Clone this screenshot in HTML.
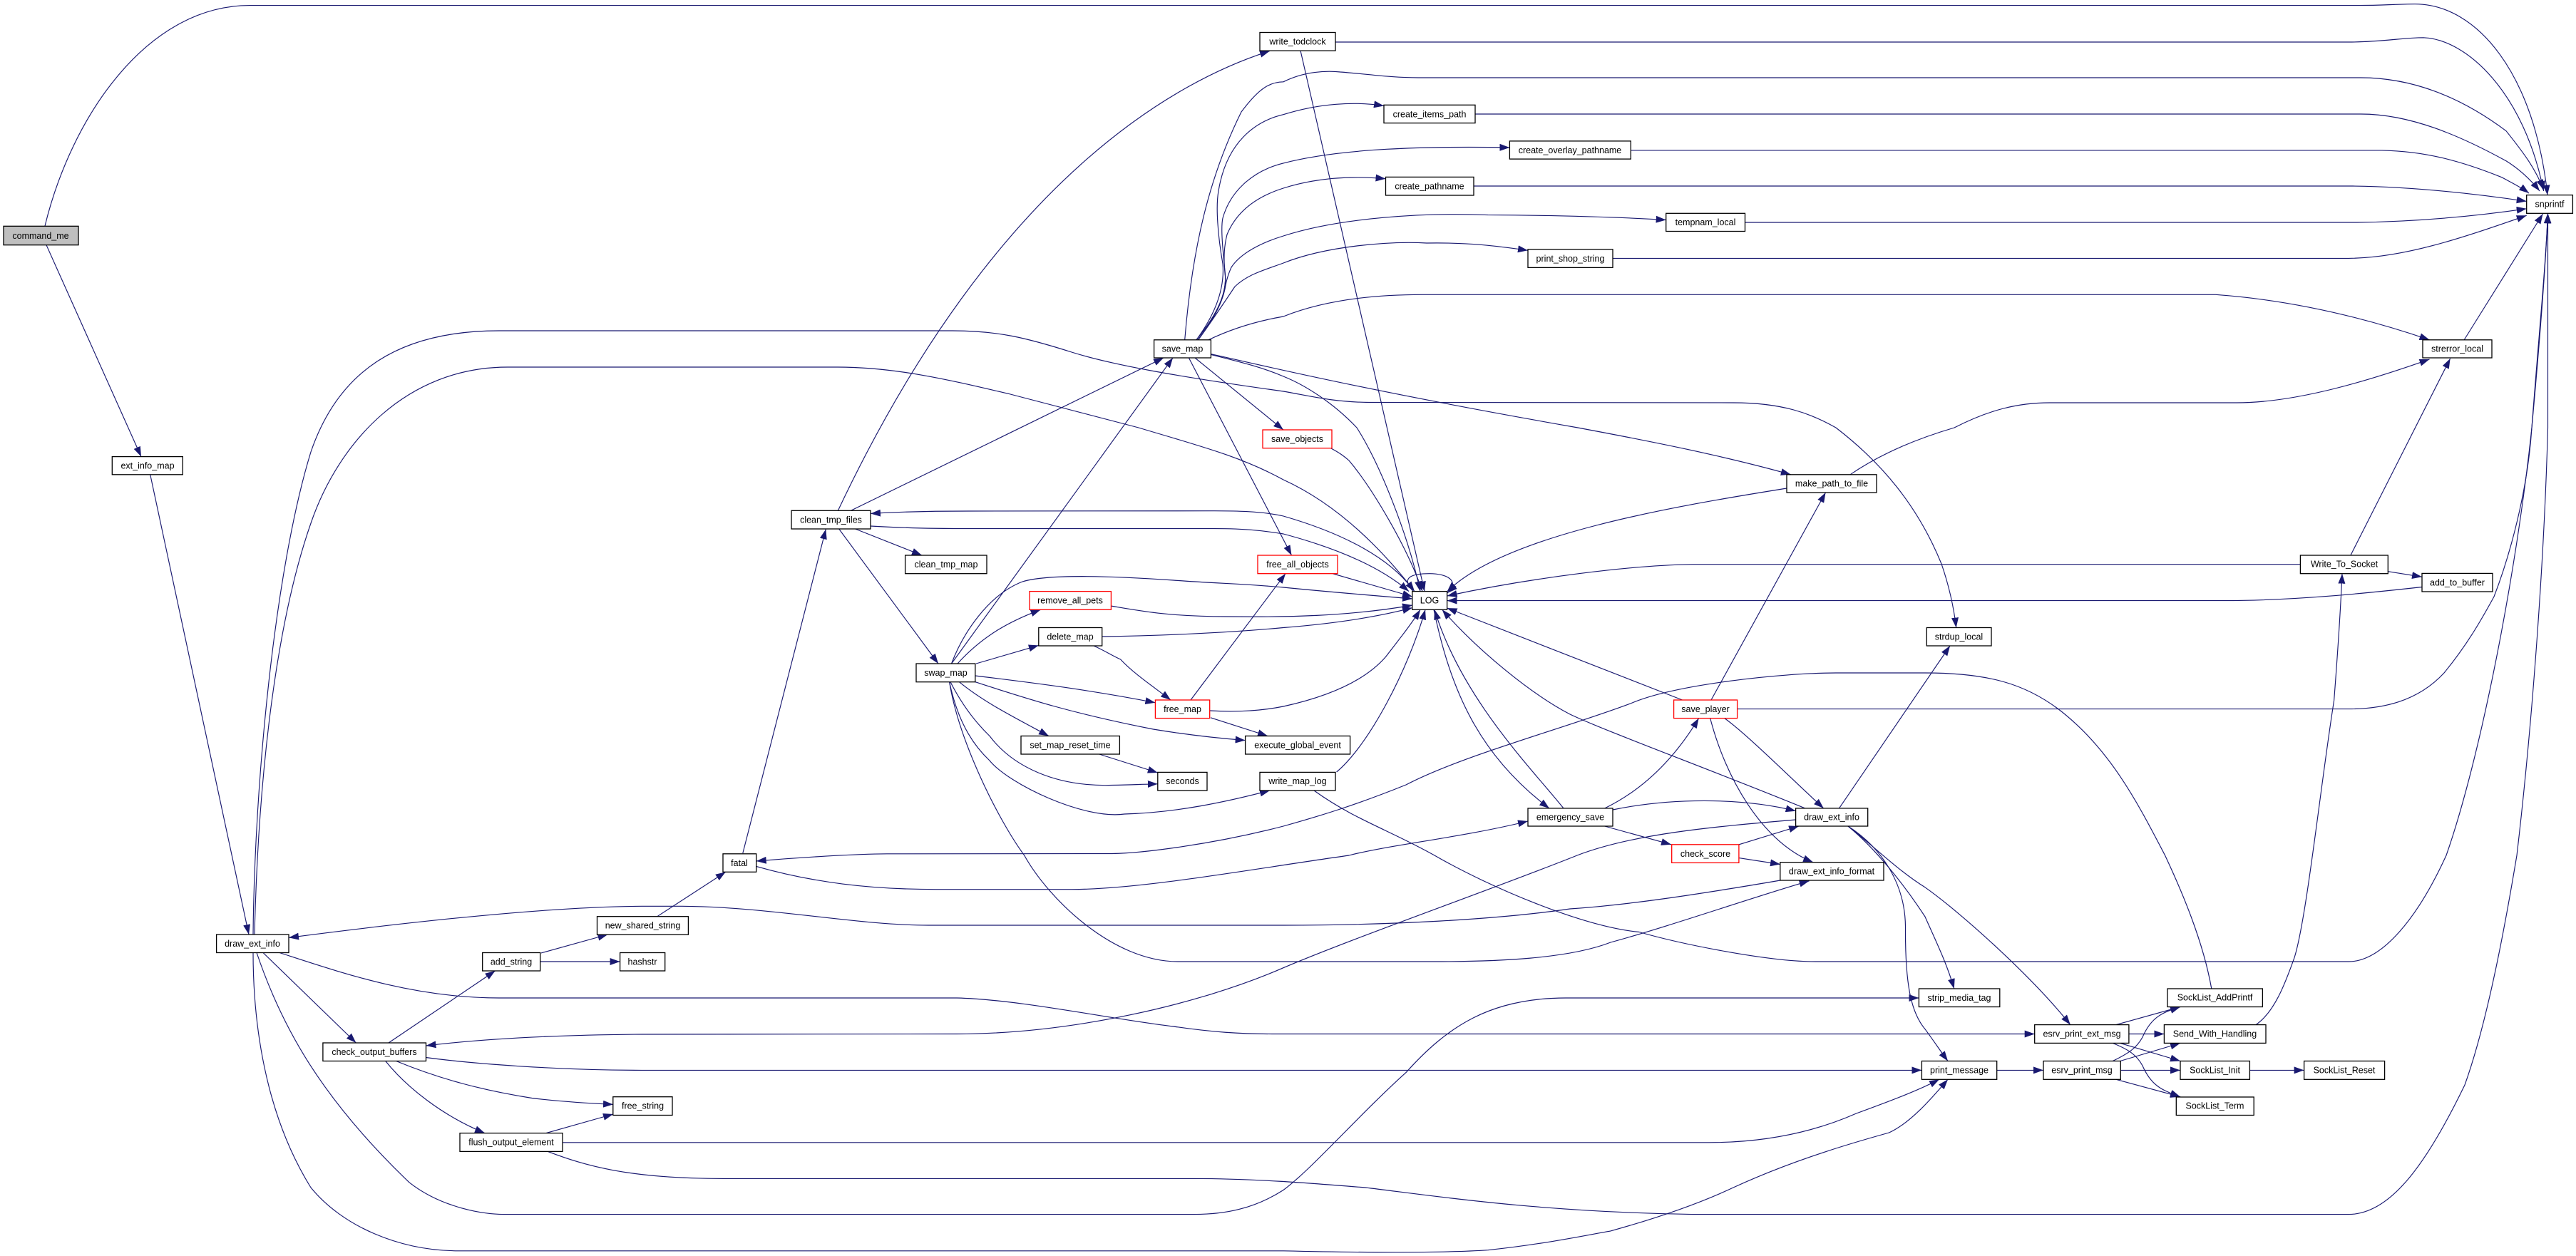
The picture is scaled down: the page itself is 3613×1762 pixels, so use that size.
<!DOCTYPE html>
<html>
<head>
<meta charset="utf-8">
<title>command_me call graph</title>
<style>
html,body{margin:0;padding:0;background:#fff}
svg{display:block}
.n{fill:#fff;stroke:#000;stroke-width:1.3}
.r{fill:#fff;stroke:#ff0000;stroke-width:1.3}
.g{fill:#bfbfbf;stroke:#000;stroke-width:1.3}
text{font-family:"Liberation Sans",sans-serif;font-size:12.5px;fill:#000;text-anchor:middle}
.e path{fill:none;stroke:#191970;stroke-width:1.15;marker-end:url(#a)}
</style>
</head>
<body>
<svg xmlns="http://www.w3.org/2000/svg" width="3613" height="1762" viewBox="0 0 3613 1762">
<defs>
<marker id="a" markerUnits="userSpaceOnUse" markerWidth="14" markerHeight="10" refX="14" refY="5" orient="auto">
<polygon points="0,0 14,5 0,10" fill="#191970"/>
</marker>
</defs>
<rect width="3613" height="1762" fill="#fff"/>
<g class="e">
<path d="M63,317 C100,165 205,8 350,7.6 L3305,7.6 C3345,7.6 3360,5.7 3387,5.7 C3475,5.7 3555,105 3573,273.6"/>
<path d="M65,343.7 L198,640.6"/>
<path d="M210.7,665.8 L349,1311"/>
<path d="M355,1311 C357,1100 385,800 436,634 C475,520 560,464 700,464 L1336,464 C1400,464 1440,474 1503,494 C1560,512 1650,528 1800,549 C1840,556 1870,564 1920,564.5 L2431,565 C2500,565 2540,580 2575,600 C2640,650 2690,710 2723,791 C2733,820 2740,850 2743.7,880.5"/>
<path d="M357,1311 C362,1100 385,880 436,734 C475,620 570,515 712,515 L1175,515 C1260,515 1340,535 1417,553 C1490,572 1560,590 1597,600 C1680,625 1740,640 1800,673 C1870,705 1930,760 1984,829.6"/>
<path d="M1867,629 C1880,636 1885,640 1892,646 C1925,685 1975,770 1995,829.6"/>
<path d="M1824,71 L1998,829.6"/>
<path d="M1698.4,497.5 C1740,508 1770,515 1800,528 C1830,540 1870,565 1903,600 C1935,650 1975,750 1992,829.6"/>
<path d="M1334.5,931 C1350,890 1385,835 1434,816 C1470,805 1560,808 1646,814 C1700,818 1760,820 1800,824 C1860,830 1920,835 1981,840"/>
<path d="M1558,850 C1600,857 1640,865 1720,865 C1800,866 1890,865 1981,849"/>
<path d="M1546,893 C1620,892 1720,888 1800,880.5 C1870,875 1930,866 1981,852.6"/>
<path d="M1696.7,997 C1730,999 1765,998 1800,991 C1850,980 1910,960 1943.5,921.5 C1960,900 1980,875 1992,855.3"/>
<path d="M1874.6,1083 C1920,1045 1975,940 1999,855.3"/>
<path d="M1869,804.7 L1981,837"/>
<path d="M1980,825 C1950,785 1890,750 1800,724 C1770,717 1730,716.7 1703,716.7 L1359,717 C1310,717 1260,718 1221,720.5"/>
<path d="M1221,738 C1270,741 1310,741.6 1359,741.6 L1703,741.6 C1750,741.6 1775,745 1800,749 C1860,765 1930,790 1976,829.6"/>
<path d="M1982,829.6 C1962,808 1985,804.7 2005,804.7 C2030,804.7 2048,815 2030,832"/>
<path d="M2506,685 C2350,710 2110,750 2029.6,830"/>
<path d="M3226.4,791.7 L2374,791.7 C2290,793 2150,810 2029.6,836"/>
<path d="M3397,823.5 C3320,832 3220,842.6 3119,842.6 L2029.6,842.6"/>
<path d="M2359.6,982 L2029.6,853"/>
<path d="M2532,1134 C2400,1080 2250,1025 2202,1002 C2150,975 2075,915 2022.7,855.3"/>
<path d="M2193,1134 C2150,1080 2050,980 2012,855.3"/>
<path d="M2011,855.3 C2035,970 2075,1060 2173,1134"/>
<path d="M2250.6,1134 C2300,1110 2345,1070 2382.6,1007.6"/>
<path d="M2262,1136 C2340,1120 2440,1118 2518.6,1137.7"/>
<path d="M2250.6,1159 L2344,1184.8"/>
<path d="M2439,1184.8 L2523,1159"/>
<path d="M2439,1203.6 L2497,1212.5"/>
<path d="M2400,982 L2560.5,691"/>
<path d="M2436.6,994.6 L3294,994.6 C3340,994.6 3390,985 3428,944 C3460,905 3480,870 3498,837 C3520,780 3545,690 3551,600 C3560,480 3570,380 3573.5,299.3"/>
<path d="M769,1615.7 C820,1635 880,1653.4 1015,1653.4 L1675,1653.4 C1760,1653.4 1840,1660 1915,1666 C2000,1676 2150,1700 2374,1703.6 L3294,1703.6 C3350,1703.6 3400,1640 3457,1522 C3490,1430 3515,1290 3530,1200 C3550,1030 3568,800 3573.5,600 L3573.5,299.3"/>
<path d="M1843,1109 C1900,1150 1950,1165 2012,1200 C2090,1245 2220,1300 2299,1307.5 C2360,1325 2480,1349 2546,1349 L3294,1349 C3340,1349 3390,1290 3431,1200 C3480,1060 3530,800 3551,600 C3562,480 3570,380 3573.5,299.3"/>
<path d="M3101.8,1387 C3090,1320 3060,1250 3036.6,1200 C3000,1130 2960,1050 2886,994 C2840,960 2790,944 2700,944 L2575,944 C2500,944 2350,960 2288,986.5 C2200,1020 2050,1060 1972,1101 C1900,1130 1850,1145 1800,1159 C1700,1185 1600,1197 1560,1197.5 L1244,1197.8 C1200,1198 1120,1203 1060.7,1208"/>
<path d="M1060.7,1215.4 C1140,1238 1220,1247.7 1313,1247.7 L1503,1247.7 C1600,1247.7 1750,1220 1892,1200 C1950,1185 2050,1175 2143,1152"/>
<path d="M1041.8,1197 L1158.3,742.4"/>
<path d="M1175.5,716 C1400,240 1660,110 1781,71.5"/>
<path d="M1194,716 L1632,502"/>
<path d="M1199.6,742 L1293,779"/>
<path d="M1176.7,742 L1316,931"/>
<path d="M1334.5,931 L1645,502"/>
<path d="M1343,931 C1380,890 1420,870 1459.6,855.3"/>
<path d="M1369,931 L1456.8,905.4"/>
<path d="M1534,906 C1550,913 1560,920 1571.6,925 C1590,945 1620,965 1642,982"/>
<path d="M1367.8,948 C1450,958 1530,968 1620.4,985.8"/>
<path d="M1367.8,956.7 C1440,980 1500,1000 1617.5,1023 C1660,1030 1700,1035 1746.6,1038.6"/>
<path d="M1345.4,956.7 C1380,985 1420,1005 1471,1032.5"/>
<path d="M1333,956.7 C1350,990 1370,1015 1388,1032.5 C1420,1075 1480,1104 1560,1101.5 C1590,1101 1605,1100 1623.8,1099.8"/>
<path d="M1331.6,956.7 C1345,1020 1370,1050 1388,1067 C1415,1100 1520,1150 1577,1142 C1650,1140 1720,1125 1781,1109"/>
<path d="M1331.6,956.7 C1345,1040 1400,1150 1436.7,1200 C1470,1260 1560,1349 1652,1349 L2012,1349 C2100,1349 2200,1345 2259,1322 C2340,1300 2470,1255 2537.6,1235.8"/>
<path d="M1541.7,1058 L1623.8,1084"/>
<path d="M1670,982 L1803,804.7"/>
<path d="M1698,1006.8 L1778,1032.5"/>
<path d="M1661.7,476.8 C1672,350 1695,250 1741,157 C1765,125 1780,115 1800,114.8 C1830,100 1860,99 1880,101 C1920,104 1950,109 1989,109 L3311,109 C3400,109 3470,150 3515,183.7 C3540,215 3555,235 3567.6,266"/>
<path d="M1678,476.8 C1705,440 1718,405 1715,370 C1708,330 1705,290 1709,268 C1720,200 1760,170 1800,160.7 C1850,145 1900,142 1941,148.5"/>
<path d="M1678,476.8 C1708,440 1722,410 1718,380 C1715,350 1712,320 1715,306 C1725,270 1755,240 1800,228.9 C1880,208 2000,205 2117.4,207"/>
<path d="M1678,476.8 C1708,440 1722,410 1718,382.7 C1716,360 1717,345 1721,329 C1735,295 1765,275 1800,264 C1850,248 1900,247 1943.5,250.7"/>
<path d="M1680,476.8 C1705,445 1716,420 1719,400 C1722,385 1725,380 1727,375 C1740,355 1770,340 1800,331 C1880,305 2000,298 2087,301.6 C2180,302 2260,304 2336.7,308.5"/>
<path d="M1680.6,476.8 C1700,450 1720,420 1732,402 C1750,385 1770,380 1800,369 C1860,345 1950,338 2001,341 C2060,340 2100,345 2143,351.3"/>
<path d="M1695,476.8 C1730,460 1765,450 1800,444 C1860,420 1930,413.3 1995,413.3 L3107.6,413.3 C3200,420 3300,440 3407.5,476.8"/>
<path d="M1698.4,496.7 C1760,510 1900,545 2213,600 C2320,620 2420,640 2511.8,665.8"/>
<path d="M1676,502 L1800,603"/>
<path d="M1667.4,502 L1811.5,779"/>
<path d="M2595,665.8 C2640,635 2690,615 2741,600 C2790,575 2830,565 2875,565 L3136.7,565 C3220,565 3320,535 3407.5,504"/>
<path d="M1873,59 L3294,59 C3340,59 3370,52.8 3399,52.8 C3460,55 3540,130 3567.6,268"/>
<path d="M2069,160 L3311.4,160 C3380,160 3450,190 3515,225.8 C3530,235 3548,250 3562,268"/>
<path d="M2287.3,210.9 L3340.5,210.9 C3400,212 3450,225 3509,248.8 C3520,255 3535,262 3547,271"/>
<path d="M2067,261 L3299.8,261 C3380,262 3460,270 3543.7,282.4"/>
<path d="M2447.5,312 L3305.6,312 C3380,311 3460,305 3543.7,292.8"/>
<path d="M2262,362.4 L3294,362.4 C3370,362 3450,335 3543.7,302.3"/>
<path d="M3456,477 L3566.5,300"/>
<path d="M3296.9,779 L3436.6,503"/>
<path d="M3349.3,801.7 L3397,809.3"/>
<path d="M3164,1437.6 C3190,1420 3205,1380 3218,1343.4 C3235,1290 3255,1100 3273.6,982.7 C3280,900 3283,850 3285,804.7"/>
<path d="M2579.5,1133.9 L2735,906"/>
<path d="M2418.8,1007.6 C2450,1030 2510,1090 2557.7,1133.9"/>
<path d="M2398.7,1007.6 C2420,1090 2470,1180 2543,1209.7"/>
<path d="M2518.6,1150 C2400,1160 2290,1170 2212,1200 C2100,1245 1900,1315 1800,1357.7 C1680,1410 1500,1450.5 1342,1450.5 L900,1451 C780,1452 680,1457 597.5,1467"/>
<path d="M2497,1235 C2380,1255 2280,1270 2202,1275 C2100,1290 1950,1298 1800,1298 L1302,1298 C1200,1298 1080,1272 957,1271.3 L900,1271.3 C780,1272 600,1290 405,1315.4"/>
<path d="M392,1336.5 C480,1365 580,1400 700,1400 L1342,1400 C1430,1402 1560,1430 1646,1440 C1700,1448 1740,1450.5 1784,1450.5 L2853.7,1450.5"/>
<path d="M360,1336.5 C395,1440 450,1540 574,1658.8 C620,1695 680,1703.6 706,1703.6 L1675,1703.6 C1720,1703.6 1760,1695 1800,1669.5 C1840,1640 1905,1565 1972,1504.6 C2030,1440 2090,1400 2196,1400 L2691.4,1400"/>
<path d="M355,1336.5 C355,1430 370,1560 436,1666 C480,1720 560,1754.8 643,1754.8 L1800,1754.8 C1900,1757 2020,1758 2087,1753.7 C2170,1745 2240,1730 2259,1726.9 C2320,1710 2380,1690 2431,1666 C2520,1625 2610,1600 2649.5,1589 C2680,1575 2710,1540 2732,1514.3"/>
<path d="M369,1336.5 L499.4,1463"/>
<path d="M545,1463 L694.5,1362"/>
<path d="M758.8,1337 L852.4,1311"/>
<path d="M757.7,1349 L869.6,1349"/>
<path d="M921.8,1285.7 L1017.7,1223.3"/>
<path d="M597.5,1483.5 C660,1492 780,1501.4 900,1501.4 L2695.4,1501.4"/>
<path d="M555.6,1488.5 C620,1515 680,1530 746,1540.5 C790,1546 830,1548 860,1549.4"/>
<path d="M540.7,1488.5 C570,1525 620,1565 680,1589.6"/>
<path d="M766,1589.6 L860,1563"/>
<path d="M789,1602.8 L2397,1602.8 C2470,1602.8 2540,1590 2603.6,1562 C2650,1545 2690,1530 2720,1514.3"/>
<path d="M2592,1159 C2630,1190 2670,1240 2700,1286 C2715,1320 2730,1350 2740.8,1387"/>
<path d="M2592,1159 C2620,1180 2660,1220 2700,1244.8 C2750,1280 2850,1370 2903.8,1437.6"/>
<path d="M2592,1159 C2640,1190 2672,1240 2672.5,1300 C2672,1380 2680,1420 2700,1443.7 C2712,1460 2722,1475 2732,1488.5"/>
<path d="M2800.7,1501.4 L2866,1501.4"/>
<path d="M2985.9,1450.5 L3035.4,1450.5"/>
<path d="M2967.9,1437.6 L3058,1412.5"/>
<path d="M2973.7,1463.4 L3058,1488.5"/>
<path d="M2963.2,1463.4 C2985,1472 2997,1480 3005,1495 C3018,1525 3035,1530 3058,1538.7"/>
<path d="M2963.2,1488.5 C2985,1478 2997,1470 3005,1455 C3018,1425 3035,1420 3058,1412.5"/>
<path d="M2973.7,1488.5 L3058,1463.4"/>
<path d="M2974.3,1501.4 L3058,1501.4"/>
<path d="M2967.9,1514.3 L3058,1538.7"/>
<path d="M3155.4,1501.4 L3231.6,1501.4"/>
</g>

<rect class="g" x="5" y="317.3" width="105" height="26.4"/><text x="57" y="335">command_me</text>
<rect class="n" x="157.3" y="640.6" width="99" height="25.2"/><text x="207" y="657.5">ext_info_map</text>
<rect class="n" x="303.6" y="1311" width="101.4" height="25.5"/><text x="354" y="1328">draw_ext_info</text>
<rect class="n" x="452.9" y="1463" width="144.6" height="25.5"/><text x="525" y="1480">check_output_buffers</text>
<rect class="n" x="676.7" y="1336.5" width="81" height="25.5"/><text x="717" y="1353.5">add_string</text>
<rect class="n" x="645" y="1589.6" width="144" height="25.8"/><text x="717" y="1606.5">flush_output_element</text>
<rect class="n" x="837.5" y="1285.7" width="127.9" height="25.5"/><text x="901.5" y="1302.5">new_shared_string</text>
<rect class="n" x="869.6" y="1336.5" width="63.1" height="25.5"/><text x="901" y="1353.5">hashstr</text>
<rect class="n" x="859.8" y="1538.7" width="83.2" height="25.8"/><text x="901.5" y="1555.5">free_string</text>
<rect class="n" x="1014" y="1197.8" width="46.7" height="25.5"/><text x="1037" y="1215">fatal</text>
<rect class="n" x="1110" y="716.3" width="111" height="25.7"/><text x="1165.5" y="733.5">clean_tmp_files</text>
<rect class="n" x="1269.6" y="779" width="114.4" height="25.7"/><text x="1327" y="796">clean_tmp_map</text>
<rect class="n" x="1285" y="931" width="82.8" height="25.7"/><text x="1326.5" y="948">swap_map</text>
<rect class="r" x="1444" y="829.6" width="114.4" height="25.7"/><text x="1501" y="846.5">remove_all_pets</text>
<rect class="n" x="1456.8" y="880.5" width="88.9" height="25.5"/><text x="1501" y="897.5">delete_map</text>
<rect class="n" x="1432" y="1032.5" width="138.4" height="25.5"/><text x="1501" y="1049.5">set_map_reset_time</text>
<rect class="n" x="1618.6" y="476.8" width="79.8" height="25.2"/><text x="1658.5" y="493.5">save_map</text>
<rect class="r" x="1620.4" y="982" width="76.3" height="25.6"/><text x="1658.5" y="999">free_map</text>
<rect class="n" x="1623.8" y="1083.4" width="69.2" height="25.6"/><text x="1658.5" y="1100">seconds</text>
<rect class="n" x="1767" y="45.5" width="106" height="25.7"/><text x="1820" y="62.5">write_todclock</text>
<rect class="r" x="1771" y="603" width="97" height="25.7"/><text x="1819.5" y="620">save_objects</text>
<rect class="r" x="1764" y="779" width="112" height="25.7"/><text x="1820" y="796">free_all_objects</text>
<rect class="n" x="1746.6" y="1032.5" width="147" height="25.5"/><text x="1820" y="1049.5">execute_global_event</text>
<rect class="n" x="1767" y="1083.4" width="106" height="25.6"/><text x="1820" y="1100">write_map_log</text>
<rect class="n" x="1941" y="147.3" width="128" height="25.3"/><text x="2005" y="164.5">create_items_path</text>
<rect class="n" x="2117.4" y="197.9" width="169.9" height="25.2"/><text x="2202" y="215">create_overlay_pathname</text>
<rect class="n" x="1943.5" y="248.4" width="123.5" height="25.6"/><text x="2005" y="265.5">create_pathname</text>
<rect class="n" x="2336.7" y="299.3" width="110.8" height="25.2"/><text x="2392" y="316">tempnam_local</text>
<rect class="n" x="2143" y="349.8" width="119" height="25.6"/><text x="2202.5" y="367">print_shop_string</text>
<rect class="n" x="1980.8" y="829.6" width="48.8" height="25.7"/><text x="2005" y="846.5">LOG</text>
<rect class="n" x="2143" y="1133.9" width="119" height="25.1"/><text x="2202.5" y="1150.5">emergency_save</text>
<rect class="r" x="2347.6" y="982" width="89" height="25.6"/><text x="2392" y="999">save_player</text>
<rect class="r" x="2344.7" y="1184.8" width="94.2" height="25.6"/><text x="2392" y="1202">check_score</text>
<rect class="n" x="2506" y="665.8" width="126" height="25.2"/><text x="2569" y="682.5">make_path_to_file</text>
<rect class="n" x="2518.6" y="1133.9" width="101.1" height="25.1"/><text x="2569" y="1150.5">draw_ext_info</text>
<rect class="n" x="2496.8" y="1209.7" width="145.2" height="25.3"/><text x="2569" y="1226.5">draw_ext_info_format</text>
<rect class="n" x="2702.3" y="880.5" width="90.7" height="25.5"/><text x="2747.5" y="897.5">strdup_local</text>
<rect class="n" x="2691.4" y="1387" width="113.4" height="25.5"/><text x="2748" y="1404">strip_media_tag</text>
<rect class="n" x="2695.4" y="1488.5" width="105.3" height="25.8"/><text x="2748" y="1505.5">print_message</text>
<rect class="n" x="2853.7" y="1437.6" width="132.2" height="25.8"/><text x="2920" y="1454.5">esrv_print_ext_msg</text>
<rect class="n" x="2866" y="1488.5" width="108.3" height="25.8"/><text x="2920" y="1505.5">esrv_print_msg</text>
<rect class="n" x="3040" y="1387" width="133.4" height="25.5"/><text x="3106.5" y="1403.5">SockList_AddPrintf</text>
<rect class="n" x="3035.4" y="1437.6" width="142.6" height="25.8"/><text x="3106.5" y="1454.5">Send_With_Handling</text>
<rect class="n" x="3058" y="1488.5" width="97.4" height="25.8"/><text x="3106.5" y="1505.5">SockList_Init</text>
<rect class="n" x="3052.3" y="1539" width="108.9" height="25.5"/><text x="3106.5" y="1555.5">SockList_Term</text>
<rect class="n" x="3231.6" y="1488.5" width="113" height="25.8"/><text x="3288" y="1505.5">SockList_Reset</text>
<rect class="n" x="3226.4" y="779" width="122.9" height="25.7"/><text x="3288" y="795.5">Write_To_Socket</text>
<rect class="n" x="3397" y="804.4" width="99" height="25.6"/><text x="3446.5" y="821.5">add_to_buffer</text>
<rect class="n" x="3398" y="476.8" width="97" height="25.2"/><text x="3446.5" y="493.5">strerror_local</text>
<rect class="n" x="3543.7" y="273.6" width="64.7" height="25.7"/><text x="3576" y="290.5">snprintf</text>
</svg>
</body>
</html>
